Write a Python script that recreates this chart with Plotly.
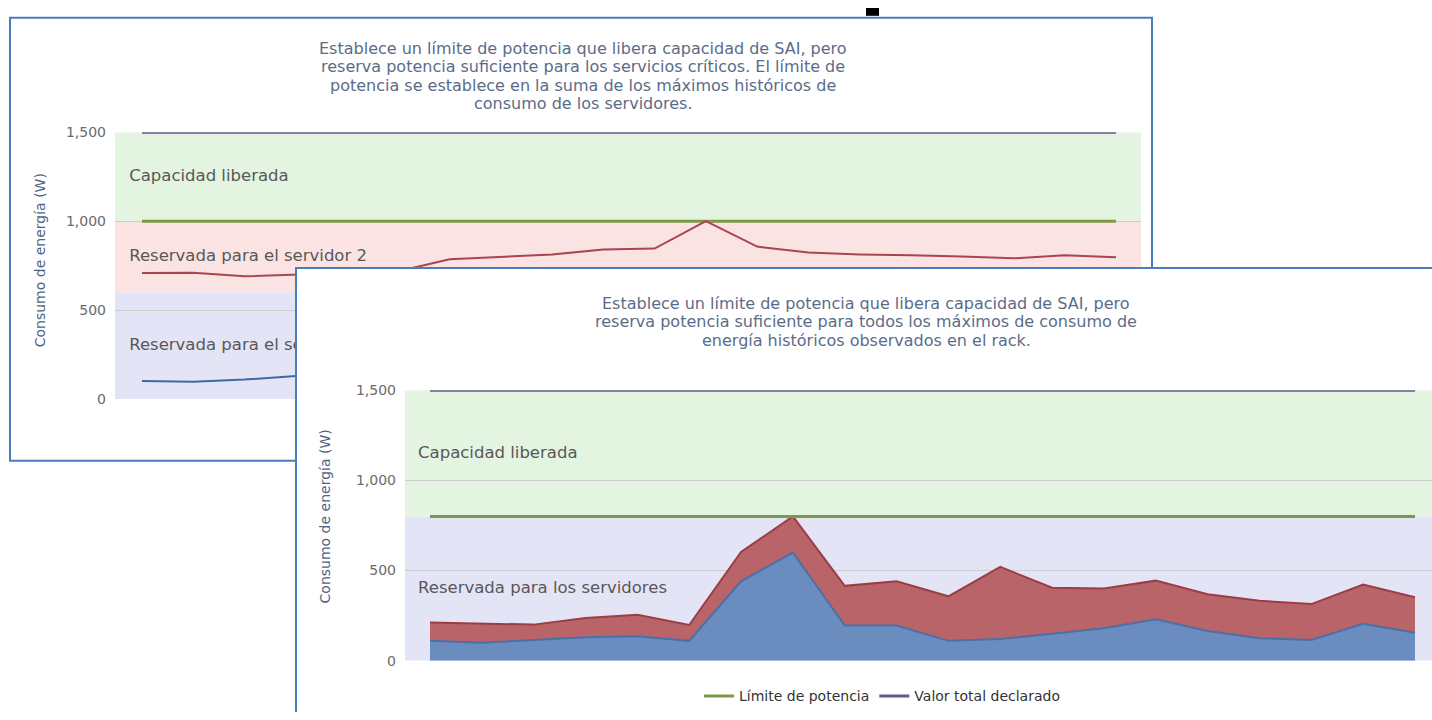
import plotly.graph_objects as go

W, H = 1432, 720
FONT = "DejaVu Sans"

# ---- data -------------------------------------------------------------
samples = list(range(20))

# Chart 1: per-server historical peaks (line view)
c1_server2 = [708, 710, 690, 700, 710, 718, 786, 800, 813, 841,
              846, 1000, 857, 824, 813, 808, 802, 791, 808, 797]
c1_server1 = [102, 97, 110, 130, 135, 110, 440, 600, 195, 195,
              110, 120, 150, 180, 230, 165, 125, 115, 205, 155]
c1_limit = [1000] * 20
c1_declared = [1500] * 20
c1_bands = [(1000, 1500, "#e3f4e1", "Capacidad liberada"),
            (600, 1000, "#fbe3e3", "Reservada para el servidor 2"),
            (0, 600, "#e4e4f7", "Reservada para el servidor 1")]

# Chart 2: stacked consumption of the rack's servers
c2_server1 = [110, 100, 115, 130, 135, 110, 440, 600, 195, 195,
              110, 120, 150, 180, 230, 165, 125, 115, 205, 155]
c2_server2 = [102, 108, 85, 107, 120, 88, 163, 200, 220, 245,
              247, 400, 255, 220, 214, 203, 207, 199, 217, 197]
c2_limit = [800] * 20
c2_declared = [1500] * 20
c2_bands = [(800, 1500, "#e3f4e1", "Capacidad liberada"),
            (0, 800, "#e4e4f7", "Reservada para los servidores")]

y_ticks = [0, 500, 1000, 1500]

title1 = ["Establece un límite de potencia que libera capacidad de SAI, pero",
          "reserva potencia suficiente para los servicios críticos. El límite de",
          "potencia se establece en la suma de los máximos históricos de",
          "consumo de los servidores."]
title2 = ["Establece un límite de potencia que libera capacidad de SAI, pero",
          "reserva potencia suficiente para todos los máximos de consumo de",
          "energía históricos observados en el rack."]
y_title = "Consumo de energía (W)"

# ---- colours ----------------------------------------------------------
PANEL_BORDER = "#4a7cc0"
LIMIT_COLOR = "#7e9848"
DECLARED_COLOR = "#5f5d8e"
GRID = "#cdcdcd"
TITLE_COLOR = "#5b6c88"
AXIS_TITLE_COLOR = "#4f6384"
TICK_COLOR = "#6a6a6a"
BAND_TEXT = "#585858"


def px(xp):
    return xp / W


def py(yp):
    return 1 - yp / H


X1_RANGE = [-0.527, 19.488]
X3_RANGE = [-0.482, 19.328]

fig = go.Figure()

# ---- chart 1 (behind) --------------------------------------------------
fig.add_trace(go.Scatter(x=samples, y=c1_declared, mode="lines", xaxis="x", yaxis="y",
                         line=dict(color=DECLARED_COLOR, width=3), showlegend=False,
                         hoverinfo="skip"))
fig.add_trace(go.Scatter(x=samples, y=c1_limit, mode="lines", xaxis="x", yaxis="y",
                         line=dict(color=LIMIT_COLOR, width=3), showlegend=False,
                         hoverinfo="skip"))
fig.add_trace(go.Scatter(x=samples, y=c1_server2, mode="lines", xaxis="x", yaxis="y",
                         line=dict(color="#a8454f", width=2), showlegend=False,
                         hoverinfo="skip"))
fig.add_trace(go.Scatter(x=samples, y=c1_server1, mode="lines", xaxis="x", yaxis="y",
                         line=dict(color="#3f68a6", width=2), showlegend=False,
                         hoverinfo="skip"))
fig.add_trace(go.Scatter(x=[-0.25] * len(c1_bands),
                         y=[(lo + hi) / 2 for lo, hi, _, _ in c1_bands],
                         text=[t for _, _, _, t in c1_bands], mode="text",
                         textposition="middle right", xaxis="x", yaxis="y",
                         textfont=dict(family=FONT, size=16.5, color=BAND_TEXT),
                         showlegend=False, hoverinfo="skip"))

# ---- cover panel for chart 2 (white card with blue border) -------------
fig.add_trace(go.Scatter(x=[], y=[], xaxis="x2", yaxis="y2", showlegend=False,
                         hoverinfo="skip"))

# ---- chart 2 (front) ---------------------------------------------------
fig.add_trace(go.Scatter(x=samples, y=c2_server1, mode="lines", stackgroup="rack",
                         xaxis="x3", yaxis="y3", fillcolor="#6b8cbe",
                         line=dict(color="#4a70a8", width=2), showlegend=False,
                         hoverinfo="skip"))
fig.add_trace(go.Scatter(x=samples, y=c2_server2, mode="lines", stackgroup="rack",
                         xaxis="x3", yaxis="y3", fillcolor="#b86468",
                         line=dict(color="#9c3d44", width=2), showlegend=False,
                         hoverinfo="skip"))
fig.add_trace(go.Scatter(x=samples, y=c2_limit, mode="lines", xaxis="x3", yaxis="y3",
                         name="Límite de potencia",
                         line=dict(color=LIMIT_COLOR, width=3), hoverinfo="skip"))
fig.add_trace(go.Scatter(x=samples, y=c2_declared, mode="lines", xaxis="x3", yaxis="y3",
                         name="Valor total declarado",
                         line=dict(color=DECLARED_COLOR, width=3), hoverinfo="skip"))
fig.add_trace(go.Scatter(x=[-0.23] * len(c2_bands),
                         y=[(lo + hi) / 2 for lo, hi, _, _ in c2_bands],
                         text=[t for _, _, _, t in c2_bands], mode="text",
                         textposition="middle right", xaxis="x3", yaxis="y3",
                         textfont=dict(family=FONT, size=16.5, color=BAND_TEXT),
                         showlegend=False, hoverinfo="skip"))

# ---- plot bands --------------------------------------------------------
shapes = []
for lo, hi, col, _ in c1_bands:
    shapes.append(dict(type="rect", xref="x", yref="y", x0=X1_RANGE[0], x1=X1_RANGE[1],
                       y0=lo, y1=hi, fillcolor=col, line=dict(width=0), layer="below"))
for lo, hi, col, _ in c2_bands:
    shapes.append(dict(type="rect", xref="x3", yref="y3", x0=X3_RANGE[0], x1=X3_RANGE[1],
                       y0=lo, y1=hi, fillcolor=col, line=dict(width=0), layer="below"))
# border of the rear card
shapes.append(dict(type="rect", xref="paper", yref="paper", x0=px(10), x1=px(1152),
                   y0=py(463), y1=py(10), line=dict(color=PANEL_BORDER, width=2),
                   fillcolor="rgba(0,0,0,0)", layer="below"))
# fragment of the heading above the cards
shapes.append(dict(type="rect", xref="paper", yref="paper", x0=px(866), x1=px(879),
                   y0=py(8), y1=1, fillcolor="black", line=dict(width=0), layer="above"))

# ---- texts -------------------------------------------------------------
annotations = []
for i, line in enumerate(title1):
    annotations.append(dict(text=line, xref="paper", yref="paper", x=px(583),
                            y=py(41 + 19 * i), xanchor="center", yanchor="middle",
                            showarrow=False,
                            font=dict(family=FONT, size=16, color=TITLE_COLOR)))
for i, line in enumerate(title2):
    annotations.append(dict(text=line, xref="paper", yref="paper", x=px(866),
                            y=py(302 + 19 * i), xanchor="center", yanchor="middle",
                            showarrow=False,
                            font=dict(family=FONT, size=16, color=TITLE_COLOR)))
annotations.append(dict(text=y_title, xref="paper", yref="paper", x=px(40), y=py(258),
                        textangle=-90, xanchor="center", yanchor="middle", showarrow=False,
                        font=dict(family=FONT, size=14, color=AXIS_TITLE_COLOR)))
annotations.append(dict(text=y_title, xref="paper", yref="paper", x=px(325), y=py(520),
                        textangle=-90, xanchor="center", yanchor="middle", showarrow=False,
                        font=dict(family=FONT, size=14, color=AXIS_TITLE_COLOR)))

hidden_x = dict(showgrid=False, zeroline=False, showticklabels=False, ticks="",
                fixedrange=True)
y_common = dict(range=[0, 1500], tickvals=y_ticks, tickformat=",d", showgrid=True,
                gridcolor=GRID, gridwidth=1, zeroline=False, ticks="",
                ticklabelstandoff=8, fixedrange=True,
                tickfont=dict(family=FONT, size=14, color=TICK_COLOR))

fig.update_layout(
    width=W, height=H,
    margin=dict(l=0, r=0, t=0, b=0),
    paper_bgcolor="white", plot_bgcolor="white",
    xaxis=dict(domain=[px(115), px(1141)], range=X1_RANGE, anchor="y", **hidden_x),
    yaxis=dict(domain=[py(400), py(127)], anchor="x", **y_common),
    xaxis2=dict(domain=[px(297), 1.0], anchor="y2", range=[0, 1], side="top",
                showline=True, linecolor=PANEL_BORDER, linewidth=2, **hidden_x),
    yaxis2=dict(domain=[0, py(267)], anchor="x2", range=[0, 1],
                showline=True, linecolor=PANEL_BORDER, linewidth=2, **hidden_x),
    xaxis3=dict(domain=[px(405), 1.0], range=X3_RANGE, anchor="y3", **hidden_x),
    yaxis3=dict(domain=[py(667.5), py(391)], anchor="x3", **y_common),
    shapes=shapes,
    annotations=annotations,
    legend=dict(orientation="h", x=px(882), xanchor="center", y=py(704),
                yanchor="middle", bgcolor="rgba(0,0,0,0)", traceorder="normal",
                font=dict(family=FONT, size=14, color="#333333")),
    font=dict(family=FONT),
    hovermode=False,
)

fig.write_html("out.html")
